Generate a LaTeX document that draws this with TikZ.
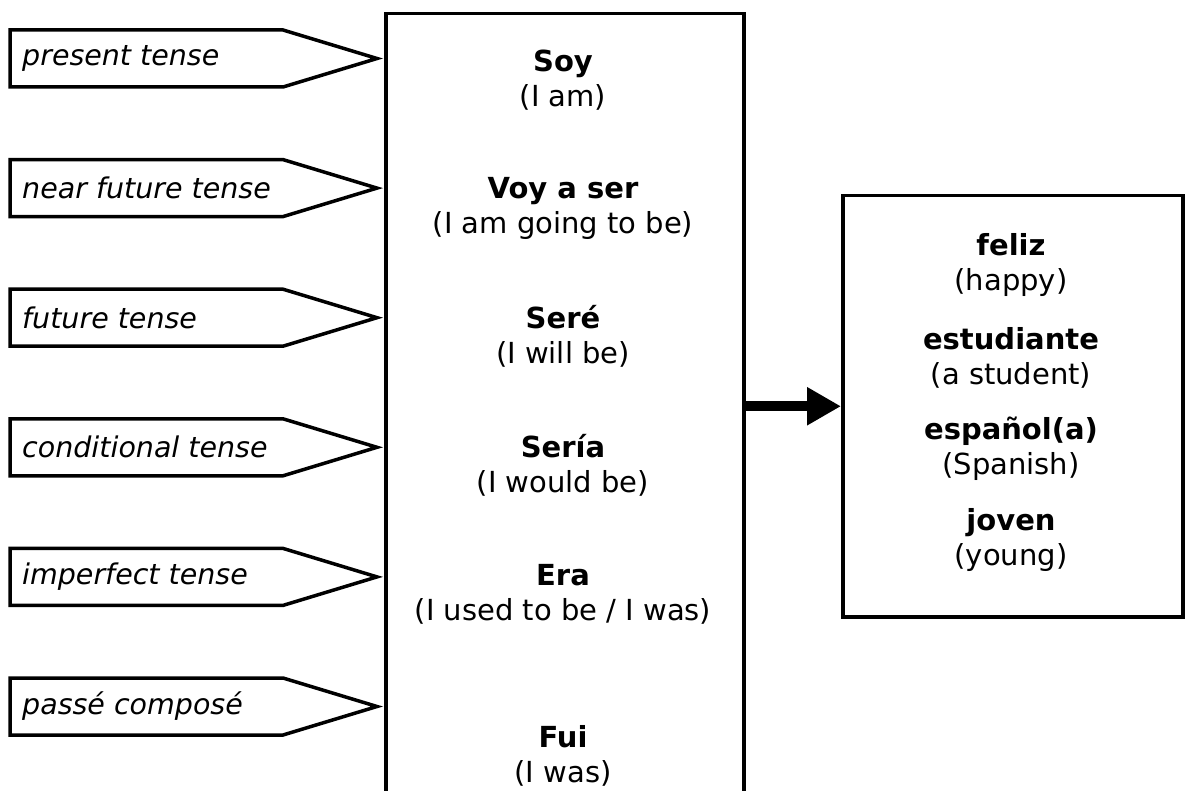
\documentclass[tikz,border=0pt]{standalone}
\usepackage{fontspec}
\setmainfont{DejaVu Sans}
\usetikzlibrary{arrows.meta}
\begin{document}
\begin{tikzpicture}[x=1pt,y=-1pt,
  lw/.style={line width=3.5pt},
  tense/.style={anchor=west, inner sep=0pt, font=\fontsize{28.5}{30}\selectfont\itshape},
  verb/.style={align=center, inner sep=0pt, font=\fontsize{29}{35}\selectfont},
  tag/.style={lw, line join=miter}
]
\useasboundingbox (0,0) rectangle (1188,791);
% big verb box (open at the bottom, runs off the page)
\node[draw, lw, anchor=north west, minimum width=358pt, minimum height=820pt, inner sep=0pt] (verbs) at (384,12) {};
% adjectives box
\node[draw, lw, anchor=north west, minimum width=340pt, minimum height=421pt, inner sep=0pt] (adj) at (841,194) {};
% tense tags
\foreach \i/\lab in {0/present tense,1/near future tense,2/future tense,3/conditional tense,4/imperfect tense,5/passé composé}{
  \pgfmathsetmacro{\yc}{58.5+129.6*\i}
  \draw[tag] (10,\yc-28.5) -- (283,\yc-28.5) -- (377,\yc) -- (283,\yc+28.5) -- (10,\yc+28.5) -- cycle;
  \node[tense] (t\i) at (22,\yc) {\lab};
}
% verb forms
\node[verb] (v0) at (563,80) {\textbf{Soy}\\(I am)};
\node[verb] (v1) at (563,208) {\textbf{Voy a ser}\\(I am going to be)};
\node[verb] (v2) at (563,336) {\textbf{Seré}\\(I will be)};
\node[verb] (v3) at (563,465) {\textbf{Sería}\\(I would be)};
\node[verb] (v4) at (563,594) {\textbf{Era}\\(I used to be / I was)};
\node[verb] (v5) at (563,756) {\textbf{Fui}\\(I was)};
% adjectives
\node[verb] (a0) at (1011,265) {\textbf{feliz}\\(happy)};
\node[verb] (a1) at (1011,358) {\textbf{estudiante}\\(a student)};
\node[verb] (a2) at (1011,449) {\textbf{español(a)}\\(Spanish)};
\node[verb] (a3) at (1011,540) {\textbf{joven}\\(young)};
% connector
\draw[line width=10pt, -{Triangle[length=34pt,width=36pt]}] (verbs.east |- adj.west) -- (adj.west);
\end{tikzpicture}
\end{document}
